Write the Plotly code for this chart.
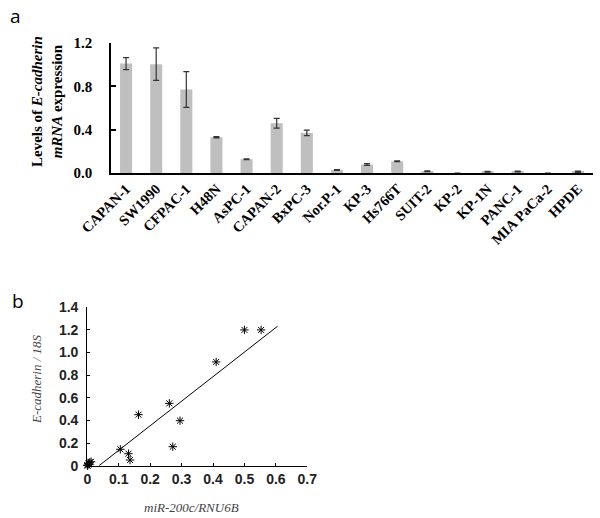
import plotly.graph_objects as go

# ---- Panel a data ----
cell_lines = ["CAPAN-1", "SW1990", "CFPAC-1", "H48N", "AsPC-1", "CAPAN-2", "BxPC-3",
              "Nor.P-1", "KP-3", "Hs766T", "SUIT-2", "KP-2", "KP-1N", "PANC-1",
              "MIA PaCa-2", "HPDE"]
expression = [1.01, 1.005, 0.77, 0.33, 0.127, 0.46, 0.37, 0.028, 0.078, 0.108,
              0.016, 0.0, 0.012, 0.014, 0.0, 0.012]
expression_err = [0.055, 0.15, 0.165, 0.006, 0.004, 0.045, 0.025, 0.004, 0.008, 0.004,
                  0.003, 0.0, 0.003, 0.003, 0.0, 0.006]
a_yticks = [0.0, 0.4, 0.8, 1.2]
a_yticklabels = ["0.0", "0.4", "0.8", "1.2"]

# ---- Panel b data ----
mir200c = [0.50, 0.553, 0.41, 0.261, 0.295, 0.163, 0.272, 0.105, 0.131, 0.136,
           0.0, 0.003, 0.008, 0.012, 0.001, 0.005]
ecadherin = [1.20, 1.20, 0.917, 0.551, 0.398, 0.451, 0.168, 0.145, 0.106, 0.05,
             0.005, 0.02, 0.03, 0.035, 0.0, 0.012]
trend_slope = 2.17
trend_intercept = -0.081
trend_x = [0.037, 0.605]
b_xticks = [0, 0.1, 0.2, 0.3, 0.4, 0.5, 0.6, 0.7]
b_xticklabels = ["0", "0.1", "0.2", "0.3", "0.4", "0.5", "0.6", "0.7"]
b_yticks = [0, 0.2, 0.4, 0.6, 0.8, 1.0, 1.2, 1.4]
b_yticklabels = ["0", "0.2", "0.4", "0.6", "0.8", "1.0", "1.2", "1.4"]

W, H = 600, 518

fig = go.Figure()

fig.add_trace(go.Bar(
    x=cell_lines, y=expression,
    marker=dict(color="#bfbfbf", line=dict(width=0)),
    width=0.4,
    error_y=dict(type="data", array=expression_err, color="#333333",
                 thickness=1.2, width=3),
    xaxis="x", yaxis="y", showlegend=False,
))

fig.add_trace(go.Scatter(
    x=mir200c, y=ecadherin, mode="markers",
    marker=dict(symbol="asterisk-open", size=7, color="black",
                line=dict(color="#111111", width=1)),
    xaxis="x2", yaxis="y2", showlegend=False, cliponaxis=False,
))

fig.add_trace(go.Scatter(
    x=trend_x, y=[trend_slope * v + trend_intercept for v in trend_x],
    mode="lines", line=dict(color="black", width=1),
    xaxis="x2", yaxis="y2", showlegend=False,
))

serif_bold = dict(family="Liberation Serif", size=15, color="black", weight="bold")
sans_bold = dict(family="Liberation Sans", size=14, color="#222222", weight="bold")

fig.update_layout(
    template="none",
    width=W, height=H,
    margin=dict(l=0, r=0, t=0, b=0, pad=0),
    paper_bgcolor="white", plot_bgcolor="white",
    bargap=0.6,
    xaxis=dict(
        domain=[111 / W, 593 / W], anchor="y", automargin=False,
        range=[-0.5, 15.5], type="category",
        showline=True, linecolor="black", linewidth=1.5,
        ticks="", tickangle=-45,
        tickfont=dict(family="Liberation Serif", size=14.5, color="black", weight="bold"),
        showgrid=False, zeroline=False,
    ),
    yaxis=dict(
        domain=[1 - 173 / H, 1 - 43 / H], anchor="x", automargin=False,
        range=[0, 1.2],
        tickvals=a_yticks, ticktext=a_yticklabels,
        showline=True, linecolor="black", linewidth=1.5,
        ticks="inside", ticklen=5, tickcolor="black", tickwidth=1.5,
        ticklabelstandoff=14,
        tickfont=serif_bold,
        showgrid=False, zeroline=False,
    ),
    xaxis2=dict(
        domain=[87.3 / W, 307.3 / W], anchor="y2", automargin=False,
        range=[0, 0.7],
        tickvals=b_xticks, ticktext=b_xticklabels,
        showline=True, linecolor="black", linewidth=1.2,
        ticks="inside", ticklen=3, tickcolor="black",
        tickfont=sans_bold,
        showgrid=False, zeroline=False,
    ),
    yaxis2=dict(
        domain=[1 - 465.7 / H, 1 - 307.3 / H], anchor="x2", automargin=False,
        range=[0, 1.4],
        tickvals=b_yticks, ticktext=b_yticklabels,
        showline=True, linecolor="black", linewidth=1.2,
        ticks="inside", ticklen=3, tickcolor="black",
        ticklabelstandoff=5,
        tickfont=sans_bold,
        showgrid=False, zeroline=False,
    ),
    annotations=[
        dict(text="a", x=8 / W, y=1 - 1 / H, xref="paper", yref="paper",
             xanchor="left", yanchor="top", showarrow=False,
             font=dict(family="Open Sans", size=19, color="black")),
        dict(text="b", x=10 / W, y=1 - 286 / H, xref="paper", yref="paper",
             xanchor="left", yanchor="top", showarrow=False,
             font=dict(family="Open Sans", size=19, color="black")),
        dict(text="Levels of <i>E-cadherin</i><br><i>mRNA</i> expression",
             x=47 / W, y=1 - 102 / H, xref="paper", yref="paper",
             xanchor="center", yanchor="middle", textangle=-90, showarrow=False,
             font=dict(family="Liberation Serif", size=15, color="black", weight="bold")),
        dict(text="<i>E-cadherin / 18S</i>",
             x=36 / W, y=1 - 379 / H, xref="paper", yref="paper",
             xanchor="center", yanchor="middle", textangle=-90, showarrow=False,
             font=dict(family="Liberation Serif", size=13, color="#444444")),
        dict(text="<i>miR-200c/RNU6B</i>",
             x=191 / W, y=1 - 507 / H, xref="paper", yref="paper",
             xanchor="center", yanchor="middle", showarrow=False,
             font=dict(family="Liberation Serif", size=13, color="#444444")),
    ],
)

fig.write_html(
    "out.html",
    config={"displayModeBar": False},
    post_script="document.body.style.margin='0px';document.body.style.overflow='hidden';",
)
